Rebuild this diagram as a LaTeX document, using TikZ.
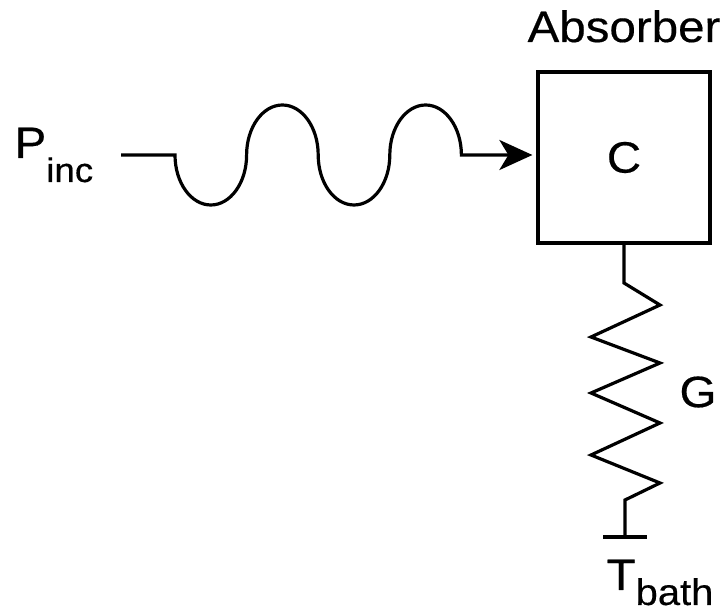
\documentclass[tikz,border=0pt]{standalone}
\usepackage{fontspec}
\setmainfont{Liberation Sans}[FakeStretch=1.08, FakeBold=0.4]
\usetikzlibrary{arrows.meta}
\begin{document}
\begin{tikzpicture}[x=1pt, y=1pt, line width=3.2pt,
  big/.style={font=\fontsize{44}{50}\selectfont, inner sep=0pt}]
\useasboundingbox (0,0) rectangle (724,613);
\node[draw, minimum width=172pt, minimum height=171pt, big] (absorber) at (624,455.5) {C};
\coordinate (wavein) at (121,458);
\coordinate (bath) at (625,76);
\draw[-{Stealth[length=33pt, width=30pt, inset=9pt]}, shorten >=4pt] (wavein) -- (175,458)
  arc[start angle=180, end angle=360, x radius=35.8, y radius=50]
  arc[start angle=180, end angle=0, x radius=35.8, y radius=50]
  arc[start angle=180, end angle=360, x radius=35.8, y radius=50]
  arc[start angle=180, end angle=0, x radius=35.8, y radius=50]
  -- (absorber.west |- wavein);
\draw (absorber.south) -- (624,330) -- (660,308) -- (591,276) -- (660,250) -- (591,220)
  -- (660,190) -- (591,158) -- (660,130) -- (625,113) -- (bath);
\draw ([xshift=-22pt]bath) -- ([xshift=22pt]bath);
%Text
\node[big, anchor=base] (label) at (624,571) {Absorber};
\node[big, anchor=base west] (pinc) at (13,455) {P\raisebox{-24pt}{\fontsize{34}{40}\selectfont inc}};
\node[big] (gval) at (698,221) {G};
\node[big, anchor=base west] (tbath) at (605,23) {T\raisebox{-15pt}{\fontsize{37}{40}\selectfont bath}};
\end{tikzpicture}
\end{document}
